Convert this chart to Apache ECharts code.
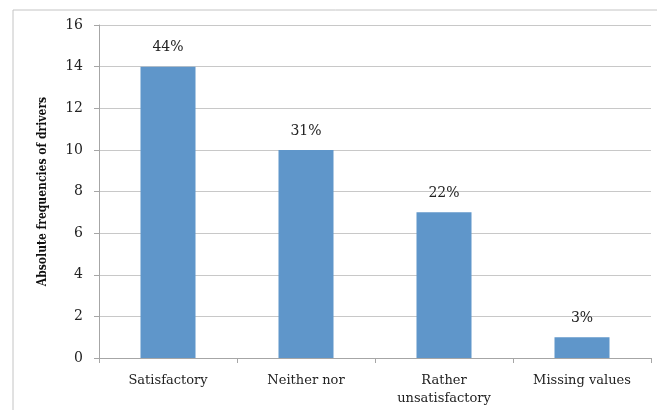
<!DOCTYPE html>
<html>
<head>
<meta charset="utf-8">
<script src="https://cdn.jsdelivr.net/npm/echarts@6/dist/echarts.min.js"></script>
<style>
  html, body { margin: 0; padding: 0; background: #fff; }
  #main { width: 657px; height: 410px; }
</style>
</head>
<body>
<div id="main"></div>
<script>
// 数据
var categories = ['Satisfactory', 'Neither nor', 'Rather\nunsatisfactory', 'Missing values'];
var counts = [14, 10, 7, 1];
var percentLabels = ['44%', '31%', '22%', '3%'];

var myChart = echarts.init(document.getElementById('main'));
var serif = '"DejaVu Serif", serif';

var option = {
    animation: false,
    graphic: [{
        type: 'rect',
        shape: { x: 13, y: 10, width: 700, height: 500 },
        style: { fill: 'none', stroke: '#c4c4c4', lineWidth: 1 }
    }],
    grid: { left: 99, right: 6, top: 25, bottom: 52 },
    xAxis: {
        type: 'category',
        data: categories,
        axisLine: { lineStyle: { color: '#a6a6a6' } },
        axisTick: { show: true, length: 5, lineStyle: { color: '#a6a6a6' } },
        axisLabel: { color: '#222', fontFamily: serif, fontSize: 13, margin: 14, lineHeight: 18 }
    },
    yAxis: {
        type: 'value',
        min: 0,
        max: 16,
        interval: 2,
        name: 'Absolute frequencies of drivers',
        nameLocation: 'middle',
        nameGap: 50,
        nameTextStyle: { color: '#111', fontFamily: '"DejaVu Serif Condensed", "DejaVu Serif", serif', fontWeight: 'bold', fontSize: 12 },
        axisLine: { show: true, lineStyle: { color: '#a6a6a6' } },
        axisTick: { show: true, length: 5, lineStyle: { color: '#a6a6a6' } },
        axisLabel: { color: '#222', fontFamily: serif, fontSize: 14, margin: 16 },
        splitLine: { lineStyle: { color: '#c8c8c8' } }
    },
    series: [{
        type: 'bar',
        data: counts,
        barWidth: 55,
        itemStyle: { color: '#5f96ca' },
        label: {
            show: true,
            position: 'top',
            distance: 12,
            color: '#222',
            fontFamily: serif,
            fontSize: 14,
            formatter: function (p) { return percentLabels[p.dataIndex]; }
        }
    }]
};

myChart.setOption(option);
</script>
</body>
</html>
